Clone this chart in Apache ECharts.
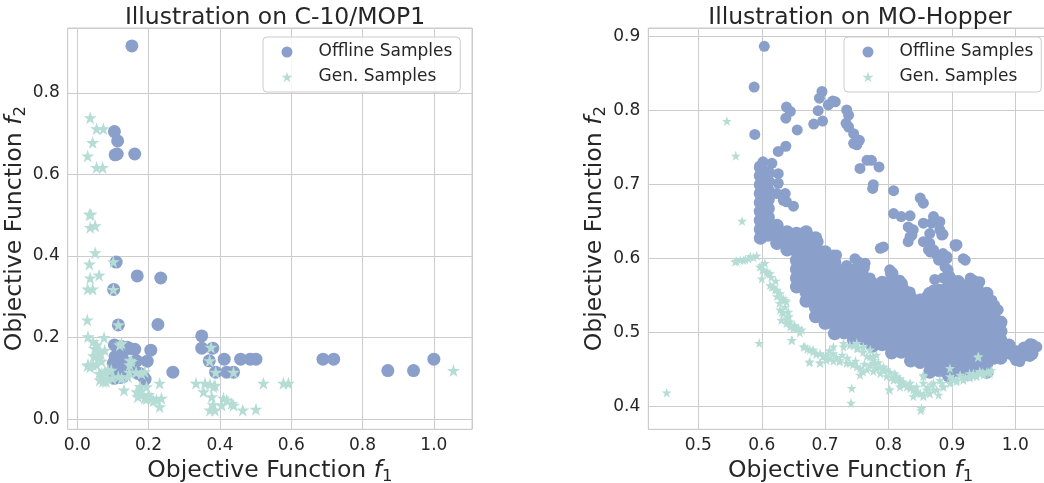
<!DOCTYPE html>
<html><head><meta charset="utf-8">
<script src="https://cdn.jsdelivr.net/npm/echarts@6/dist/echarts.min.js"></script>
<style>html,body{margin:0;padding:0;background:#fff}#c{width:1044px;height:483px}</style>
</head><body><div id="c"></div>
<script>
// ---------------- DATA ----------------
const seriesNames = ['Offline Samples', 'Gen. Samples'];
const titles = ['Illustration on C-10/MOP1', 'Illustration on MO-Hopper'];
const leftTicksX = [0.0, 0.2, 0.4, 0.6, 0.8, 1.0];
const leftTicksY = [0.0, 0.2, 0.4, 0.6, 0.8];
const rightTicksX = [0.5, 0.6, 0.7, 0.8, 0.9, 1.0];
const rightTicksY = [0.4, 0.5, 0.6, 0.7, 0.8, 0.9];

// Left panel (C-10/MOP1): [f1, f2]
const leftOffline = [
  [0.153,0.915],
  [0.104,0.705],[0.113,0.682],[0.106,0.648],[0.112,0.650],[0.161,0.650],
  [0.109,0.385],[0.168,0.351],[0.234,0.346],[0.102,0.318],
  [0.115,0.231],[0.226,0.232],
  [0.104,0.182],[0.124,0.178],[0.147,0.173],[0.161,0.171],[0.206,0.169],[0.140,0.176],[0.120,0.174],
  [0.106,0.153],[0.125,0.157],
  [0.105,0.143],[0.128,0.145],[0.166,0.143],[0.196,0.142],[0.101,0.137],[0.119,0.147],[0.120,0.133],
  [0.114,0.124],[0.142,0.120],[0.152,0.128],[0.130,0.135],[0.107,0.116],[0.125,0.112],
  [0.109,0.102],[0.128,0.104],[0.175,0.112],[0.184,0.105],[0.170,0.112],[0.103,0.100],[0.190,0.098],[0.120,0.102],
  [0.268,0.115],
  [0.349,0.204],[0.349,0.174],[0.380,0.174],
  [0.370,0.143],[0.412,0.147],[0.458,0.147],[0.485,0.147],[0.501,0.147],
  [0.388,0.115],[0.419,0.115],[0.438,0.115],
  [0.689,0.147],[0.719,0.147],
  [0.871,0.119],[0.943,0.119],[1.000,0.147]
];
const leftGen = [
  [0.036,0.739],[0.054,0.712],[0.073,0.712],[0.043,0.678],[0.029,0.645],[0.054,0.617],[0.071,0.617],
  [0.034,0.502],[0.038,0.502],[0.036,0.470],[0.050,0.474],[0.050,0.408],[0.034,0.380],[0.036,0.346],
  [0.061,0.353],[0.029,0.319],[0.043,0.319],[0.101,0.386],[0.101,0.318],[0.115,0.231],
  [0.028,0.243],[0.030,0.202],[0.044,0.190],[0.075,0.200],[0.054,0.182],
  [0.049,0.173],[0.063,0.169],[0.077,0.169],[0.119,0.182],[0.124,0.186],
  [0.030,0.133],[0.044,0.133],[0.058,0.149],[0.049,0.153],[0.029,0.131],[0.036,0.128],
  [0.054,0.133],[0.068,0.142],[0.046,0.155],[0.066,0.160],
  [0.067,0.112],[0.077,0.116],[0.086,0.120],[0.095,0.120],[0.061,0.112],[0.080,0.115],
  [0.063,0.096],[0.072,0.092],[0.086,0.100],[0.098,0.100],[0.080,0.092],
  [0.152,0.141],[0.147,0.133],[0.148,0.144],
  [0.189,0.116],[0.180,0.112],[0.142,0.104],[0.124,0.100],[0.115,0.104],[0.146,0.115],[0.165,0.115],
  [0.131,0.071],[0.231,0.088],[0.166,0.067],[0.180,0.071],[0.194,0.079],[0.176,0.080],
  [0.170,0.055],[0.189,0.051],[0.208,0.051],[0.222,0.047],[0.236,0.051],[0.231,0.030],[0.195,0.050],
  [0.214,0.045],[0.180,0.060],[0.200,0.060],
  [0.333,0.088],[0.358,0.088],[0.354,0.067],[0.382,0.079],[0.377,0.055],[0.386,0.083],[0.372,0.085],
  [0.410,0.051],[0.419,0.047],[0.405,0.034],[0.433,0.038],[0.438,0.034],[0.372,0.022],[0.386,0.022],[0.381,0.035],
  [0.464,0.022],[0.501,0.024],[0.522,0.088],[0.578,0.088],[0.592,0.088],
  [0.375,0.176],[0.371,0.143],[0.388,0.115],[0.438,0.115],
  [1.055,0.119]
];

// Right panel (MO-Hopper): scattered offline points read individually
const rightOfflineSparse = [
  [0.604,0.887],[0.588,0.832],[0.589,0.768],
  [0.639,0.805],[0.645,0.799],[0.638,0.790],[0.656,0.774],[0.626,0.745],[0.638,0.752],
  [0.695,0.826],[0.691,0.817],[0.689,0.800],[0.696,0.786],[0.682,0.782],[0.705,0.808],[0.716,0.812],[0.712,0.813],
  [0.734,0.801],[0.737,0.794],[0.733,0.783],[0.737,0.778],[0.745,0.769],[0.754,0.760],[0.750,0.754],
  [0.745,0.756],[0.766,0.733],[0.773,0.733],[0.755,0.722],[0.776,0.700],[0.775,0.695],[0.785,0.724],
  [0.808,0.692],
  [0.602,0.731],[0.616,0.729],[0.626,0.715],[0.626,0.702],[0.624,0.688],[0.637,0.688],[0.634,0.679],
  [0.639,0.677],[0.650,0.671],[0.607,0.668],
  [0.808,0.661],[0.820,0.657],[0.834,0.658],[0.831,0.643],[0.834,0.630],[0.831,0.623],[0.839,0.639],
  [0.850,0.682],[0.855,0.675],[0.871,0.657],[0.868,0.648],[0.873,0.650],[0.881,0.650],[0.855,0.648],
  [0.881,0.639],[0.886,0.633],[0.865,0.621],[0.871,0.612],[0.892,0.603],[0.908,0.619],[0.918,0.600],
  [0.894,0.585],[0.886,0.574],[0.873,0.572],[0.837,0.632],[0.855,0.623],[0.884,0.632],[0.866,0.609],
  [0.876,0.605],[0.905,0.619],[0.921,0.598],[0.897,0.576],[0.906,0.617],[0.865,0.634],[0.863,0.612],
  [0.879,0.598],[0.886,0.607],[0.892,0.600],[0.889,0.589],[0.894,0.580],
  [0.787,0.614],[0.792,0.616],
  [0.629,0.625],[0.639,0.623],[0.655,0.619],[0.660,0.634],[0.671,0.632],[0.689,0.623],[0.674,0.616],
  [0.718,0.605],[0.747,0.600],[0.713,0.605],[0.734,0.591],[0.752,0.596],[0.763,0.594],[0.739,0.576],
  [0.771,0.574],[0.781,0.562],[0.802,0.585],[0.818,0.571],[0.823,0.558],[0.834,0.551],[0.839,0.544],
  [0.834,0.555],[0.823,0.542],[0.813,0.535],[0.810,0.573],[0.826,0.558],[0.836,0.549],
  [0.929,0.574],[0.944,0.569],[0.934,0.571],[0.963,0.544],[0.973,0.531],[0.971,0.513],[0.973,0.495],
  [0.986,0.481],[0.997,0.468],[1.013,0.470],[1.028,0.481],[1.023,0.485],[1.034,0.481],[1.007,0.461],
  [1.023,0.468],[0.902,0.571],[0.892,0.562],[0.860,0.549],[0.871,0.558]
];
// Right panel: dense offline cloud, read column by column: [f1, [f2 values]]
const rightOfflineColumns = [
  [0.598, [0.628,0.640,0.652,0.664,0.676,0.688,0.700,0.712,0.724]],
  [0.610, [0.632,0.644,0.656,0.668,0.680,0.692,0.704,0.716]],
  [0.624, [0.621,0.633,0.645]],
  [0.640, [0.612,0.624,0.636]],
  [0.655, [0.562,0.574,0.586,0.598,0.610,0.622,0.634]],
  [0.670, [0.543,0.555,0.567,0.579,0.591,0.603,0.615,0.627,0.636]],
  [0.685, [0.522,0.534,0.546,0.558,0.570,0.582,0.594,0.606,0.618,0.628]],
  [0.700, [0.513,0.525,0.537,0.549,0.561,0.573,0.585,0.597,0.609]],
  [0.715, [0.499,0.511,0.523,0.535,0.547,0.559,0.571,0.583,0.595]],
  [0.730, [0.500,0.512,0.524,0.536,0.548,0.560,0.572,0.584]],
  [0.745, [0.490,0.502,0.514,0.526,0.538,0.550,0.562,0.574,0.584]],
  [0.760, [0.492,0.504,0.516,0.528,0.540,0.552,0.564,0.576,0.588]],
  [0.775, [0.482,0.494,0.506,0.518,0.530,0.542,0.554,0.566]],
  [0.790, [0.484,0.496,0.508,0.520,0.532,0.544,0.556,0.568]],
  [0.805, [0.473,0.485,0.497,0.509,0.521,0.533,0.545,0.557,0.569,0.580]],
  [0.820, [0.474,0.486,0.498,0.510,0.522,0.534,0.546,0.558,0.566]],
  [0.835, [0.462,0.474,0.486,0.498,0.510,0.522,0.534,0.546]],
  [0.850, [0.460,0.472,0.484,0.496,0.508,0.520,0.532,0.544]],
  [0.865, [0.447,0.459,0.471,0.483,0.495,0.507,0.519,0.531,0.543,0.553]],
  [0.880, [0.449,0.461,0.473,0.485,0.497,0.509,0.521,0.533,0.545,0.557]],
  [0.895, [0.442,0.454,0.466,0.478,0.490,0.502,0.514,0.526,0.538,0.550,0.562,0.572]],
  [0.910, [0.449,0.461,0.473,0.485,0.497,0.509,0.521,0.533,0.545,0.557,0.569]],
  [0.925, [0.444,0.456,0.468,0.480,0.492,0.504,0.516,0.528,0.540,0.552,0.564]],
  [0.940, [0.451,0.463,0.475,0.487,0.499,0.511,0.523,0.535,0.547,0.559,0.567]],
  [0.955, [0.447,0.459,0.471,0.483,0.495,0.507,0.519,0.531,0.543,0.553]],
  [0.966, [0.466,0.478,0.490,0.502,0.514,0.526,0.536]],
  [0.977, [0.466,0.478,0.490,0.502,0.514]],
  [0.990, [0.473,0.483]],
  [1.002, [0.464,0.474]],
  [1.014, [0.470,0.479]],
  [1.026, [0.472,0.483]]
];
const rightGen = [
  [0.545,0.786],[0.559,0.739],[0.569,0.651],[0.596,0.486],[0.450,0.419],
  [0.558,0.596],[0.560,0.597],[0.566,0.598],[0.571,0.598],[0.574,0.599],[0.579,0.600],[0.582,0.603],[0.587,0.602],[0.592,0.604],
  [0.597,0.589],[0.601,0.585],[0.600,0.591],[0.603,0.585],[0.608,0.582],[0.610,0.580],[0.600,0.573],[0.613,0.580],
  [0.613,0.564],[0.616,0.562],[0.618,0.562],[0.621,0.558],[0.624,0.558],[0.629,0.553],[0.631,0.546],[0.634,0.546],
  [0.637,0.544],[0.624,0.549],[0.639,0.542],[0.637,0.535],[0.632,0.528],[0.642,0.528],[0.639,0.519],[0.645,0.515],
  [0.629,0.531],[0.634,0.526],[0.631,0.517],[0.639,0.513],[0.645,0.508],[0.650,0.506],[0.655,0.506],[0.658,0.506],
  [0.663,0.504],[0.650,0.508],[0.648,0.490],[0.647,0.490],
  [0.668,0.481],[0.666,0.481],[0.676,0.477],[0.681,0.474],[0.681,0.477],[0.692,0.472],[0.703,0.470],[0.713,0.472],
  [0.713,0.481],[0.675,0.460],[0.692,0.460],[0.676,0.461],[0.692,0.459],[0.708,0.465],[0.723,0.463],
  [0.702,0.463],[0.713,0.462],[0.723,0.461],[0.734,0.459],[0.744,0.457],[0.755,0.452],[0.766,0.450],[0.776,0.448],
  [0.787,0.445],[0.797,0.441],[0.808,0.436],[0.818,0.432],[0.829,0.427],[0.839,0.423],[0.850,0.418],[0.855,0.414],
  [0.739,0.459],[0.750,0.454],[0.760,0.447],[0.755,0.443],[0.771,0.456],[0.781,0.452],
  [0.729,0.486],[0.739,0.483],[0.750,0.479],[0.760,0.474],[0.771,0.468],[0.776,0.463],[0.787,0.454],[0.797,0.450],
  [0.810,0.445],[0.818,0.438],[0.834,0.432],[0.844,0.427],
  [0.729,0.481],[0.745,0.483],[0.750,0.486],[0.752,0.479],[0.760,0.481],[0.766,0.468],[0.771,0.477],[0.776,0.459],
  [0.781,0.470],
  [0.742,0.425],[0.741,0.405],[0.801,0.423],[0.851,0.395],[0.852,0.398],
  [0.855,0.443],[0.855,0.432],[0.865,0.418],[0.879,0.416],[0.871,0.423],[0.886,0.427],[0.897,0.432],[0.907,0.434],
  [0.918,0.436],[0.928,0.439],[0.939,0.441],[0.950,0.443],[0.960,0.445],[0.944,0.448],[0.934,0.445],
  [0.897,0.452],[0.941,0.467],[0.942,0.468],
  [0.818,0.427],[0.839,0.414],[0.860,0.423],[0.871,0.432],[0.881,0.436],[0.897,0.441],[0.913,0.443],[0.928,0.445],
  [0.944,0.447],[0.955,0.447],
  [0.776,0.468],[0.779,0.459],[0.792,0.454],[0.802,0.447],[0.813,0.441],[0.823,0.434],[0.834,0.427],[0.844,0.420],
  [0.855,0.416],[0.865,0.418],[0.876,0.423],[0.887,0.427],[0.897,0.432],[0.908,0.436],[0.918,0.438],[0.929,0.441],
  [0.939,0.443],[0.950,0.445],[0.958,0.447],[0.802,0.423],[0.855,0.441],
  [0.605,0.594],[0.615,0.575],[0.622,0.570],[0.628,0.540],[0.643,0.522],[0.652,0.510],[0.660,0.500],[0.672,0.478],
  [0.686,0.471],[0.697,0.468],[0.707,0.476],[0.718,0.467],[0.727,0.470],[0.735,0.466],[0.748,0.462],[0.762,0.458],
  [0.784,0.460],[0.792,0.449],[0.805,0.440],[0.815,0.438],[0.825,0.430],[0.835,0.425],[0.846,0.418],[0.862,0.426],
  [0.868,0.430],[0.884,0.432],[0.902,0.438],[0.921,0.440],[0.933,0.442],[0.948,0.446],[0.962,0.449]
];

// ---------------- BUILD ----------------
const rightOfflineDense = [];
rightOfflineColumns.forEach(function (col) {
  col[1].forEach(function (v) { rightOfflineDense.push([col[0], v]); });
});

const FONT = 'DejaVu Sans';
const TXT = '#262626';
const BLUE = '#8aa0ca';
const TEAL = '#b5ddd5';
const STAR = 'path://M0,-100L22.45,-30.9L95.1,-30.9L36.3,11.8L58.8,80.9L0,38.2L-58.8,80.9L-36.3,11.8L-95.1,-30.9L-22.45,-30.9Z';

function axisName(sub) {
  return 'Objective Function {i|f}{s|' + sub + '}';
}
function nameStyle() {
  return {
    fontSize: 23.5, color: TXT, fontFamily: FONT,
    rich: {
      i: { fontStyle: 'italic', fontSize: 23.5, color: TXT, fontFamily: FONT },
      s: { fontSize: 16.5, color: TXT, fontFamily: FONT, padding: [11, 0, 0, 0] }
    }
  };
}
function makeAxis(gi, ticks, min, max, step, sub, isY) {
  return {
    type: 'value', gridIndex: gi, min: min, max: max,
    minInterval: step, maxInterval: step, splitNumber: ticks.length - 1,
    axisLine: { show: false }, axisTick: { show: false },
    axisLabel: {
      fontSize: 17, color: TXT, fontFamily: FONT, margin: 8,
      showMinLabel: false, showMaxLabel: false,
      formatter: function (v) { return v.toFixed(1); }
    },
    splitLine: { show: true, lineStyle: { color: '#cccccc', width: 1 } },
    name: axisName(sub), nameLocation: 'middle', nameGap: isY ? 36 : 24,
    nameTextStyle: nameStyle()
  };
}
function legendAt(left) {
  return {
    left: left, top: 37, orient: 'vertical',
    backgroundColor: 'rgba(255,255,255,0.85)', borderColor: '#cccccc', borderWidth: 1, borderRadius: 4,
    padding: [6, 8, 6, 18.5], itemWidth: 11, itemHeight: 11, itemGap: 7,
    textStyle: { fontSize: 17, color: TXT, fontFamily: FONT, lineHeight: 18, padding: [0, 0, 0, 21] },
    data: [
      { name: seriesNames[0], icon: 'circle' },
      { name: seriesNames[1], icon: STAR }
    ]
  };
}

const option = {
  animation: false,
  backgroundColor: '#ffffff',
  title: [
    { text: titles[0], left: 270, top: 1, textAlign: 'center',
      textStyle: { fontSize: 23.5, fontWeight: 'normal', color: TXT, fontFamily: FONT } },
    { text: titles[1], left: 855, top: 1, textAlign: 'center',
      textStyle: { fontSize: 23.5, fontWeight: 'normal', color: TXT, fontFamily: FONT } }
  ],
  legend: [legendAt(263), legendAt(844)],
  grid: [
    { left: 67.7, top: 28, width: 404.3, height: 401.3, show: true, borderColor: '#cccccc', borderWidth: 1,
      backgroundColor: 'transparent', containLabel: false, outerBoundsMode: 'none' },
    { left: 648.3, top: 28, width: 404.7, height: 401.3, show: true, borderColor: '#cccccc', borderWidth: 1,
      backgroundColor: 'transparent', containLabel: false, outerBoundsMode: 'none' }
  ],
  xAxis: [
    makeAxis(0, leftTicksX, -0.027, 1.107, 0.2, '1', false),
    makeAxis(1, rightTicksX, 0.421, 1.0595, 0.1, '1', false)
  ],
  yAxis: [
    makeAxis(0, leftTicksY, -0.025, 0.959, 0.2, '2', true),
    makeAxis(1, rightTicksY, 0.3695, 0.9118, 0.1, '2', true)
  ],
  series: [
    { name: seriesNames[0], type: 'scatter', xAxisIndex: 0, yAxisIndex: 0, data: leftOffline,
      symbol: 'circle', symbolSize: 13, itemStyle: { color: BLUE, opacity: 1 }, z: 2 },
    { name: seriesNames[1], type: 'scatter', xAxisIndex: 0, yAxisIndex: 0, data: leftGen,
      symbol: STAR, symbolSize: 13, itemStyle: { color: TEAL, opacity: 1 }, z: 3 },
    { name: seriesNames[0], type: 'scatter', xAxisIndex: 1, yAxisIndex: 1, data: rightOfflineSparse,
      symbol: 'circle', symbolSize: 11, itemStyle: { color: BLUE, opacity: 1 }, z: 2, large: false },
    { name: seriesNames[0], type: 'scatter', xAxisIndex: 1, yAxisIndex: 1, data: rightOfflineDense,
      symbol: 'circle', symbolSize: 13.5, itemStyle: { color: BLUE, opacity: 1 }, z: 2, large: false },
    { name: seriesNames[1], type: 'scatter', xAxisIndex: 1, yAxisIndex: 1, data: rightGen,
      symbol: STAR, symbolSize: 10, itemStyle: { color: TEAL, opacity: 1 }, z: 3, large: false }
  ]
};

const chart = echarts.init(document.getElementById('c'), null, { renderer: 'canvas' });
chart.setOption(option);
</script></body></html>
